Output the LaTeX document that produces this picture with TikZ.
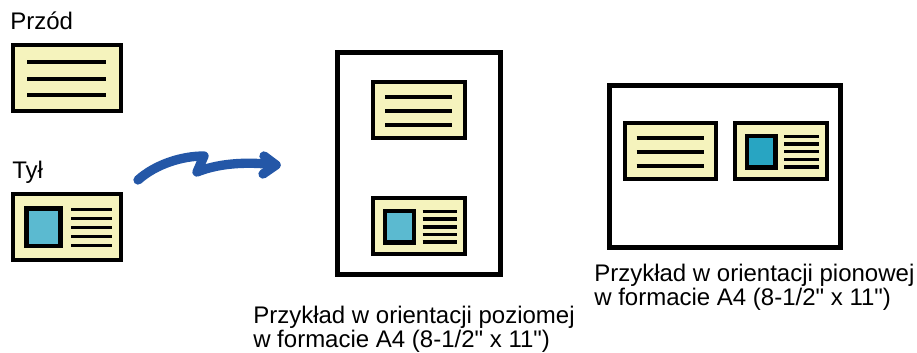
\documentclass[tikz,border=0pt]{standalone}
\usepackage{fontspec}
\setmainfont{Liberation Sans}
\definecolor{cardfill}{HTML}{F5F3BD}
\definecolor{photoA}{HTML}{5BBAD0}
\definecolor{photoB}{HTML}{28A5C2}
\definecolor{arrowblue}{HTML}{2457A7}
\tikzset{
  cardframe/.style={draw=black, line width=3pt, fill=cardfill},
  cardline/.style={draw=black, line width=3pt},
  backline/.style={draw=black, line width=2.6pt},
  photobox/.style={draw=black, line width=3.4pt},
  pageframe/.style={draw=black, line width=3.75pt, fill=white},
  bluearrow/.style={draw=arrowblue, line width=7pt, line cap=round, line join=round},
  lbl/.style={anchor=base west, inner sep=0pt, font=\fontsize{18pt}{18pt}\selectfont},
  captext/.style={anchor=base west, inner sep=0pt, align=left, font=\fontsize{18pt}{18pt}\selectfont},
  frontcard/.pic={
    \draw[cardframe] (-54,-33) rectangle (54,33);
    \foreach \yy in {-15.5,1,17.5} \draw[cardline] (-40,\yy) -- (39,\yy);
  },
  backcard/.pic={
    \draw[cardframe] (-54,-33) rectangle (54,33);
    \draw[photobox, fill=#1] (-40.25,-18.25) rectangle (-6.25,19.25);
    \foreach \yy in {-17.5,-8.5,0.5,9.5,18.5} \draw[backline] (4,\yy) -- (45,\yy);
  }
}
\begin{document}
\begin{tikzpicture}[x=0.75pt, y=-0.75pt]
\useasboundingbox (0,0) rectangle (917,353);
% left cards
\node[lbl] (front) at (10,30) {Przód};
\pic at (67,77.85) {frontcard};
\node[lbl] (back) at (12,178) {Tył};
\pic at (67,226.85) {backcard=photoA};
% arrow
\coordinate (arrS) at (138,180);
\coordinate (arrM) at (204,156);
\coordinate (arrN) at (197,172);
\coordinate (arrT) at (276,165);
\draw[bluearrow] (arrS) .. controls (156,164) and (182,156) .. (arrM) -- (arrN) .. controls (222,162) and (252,162) .. (arrT);
\draw[bluearrow] (264,156) -- (arrT) -- (263,174);
% portrait page
\draw[pageframe] (337.5,52.5) rectangle (500.8,274.8);
\pic[scale=0.85] at (419.2,110.35) {frontcard};
\pic[scale=0.85] at (419.2,226.35) {backcard=photoA};
\node[captext] (capA) at (253,347) {Przykład w orientacji poziomej\\w formacie A4 (8-1/2\textquotedbl{} x 11\textquotedbl)};
% landscape page
\draw[pageframe] (609.8,85.2) rectangle (840.8,247.5);
\pic[scale=0.85] at (670.5,151.3) {frontcard};
\pic[scale=0.85] at (781,151.3) {backcard=photoB};
\node[captext] (capB) at (594,305.7) {Przykład w orientacji pionowej\\w formacie A4 (8-1/2\textquotedbl{} x 11\textquotedbl)};
\end{tikzpicture}
\end{document}
